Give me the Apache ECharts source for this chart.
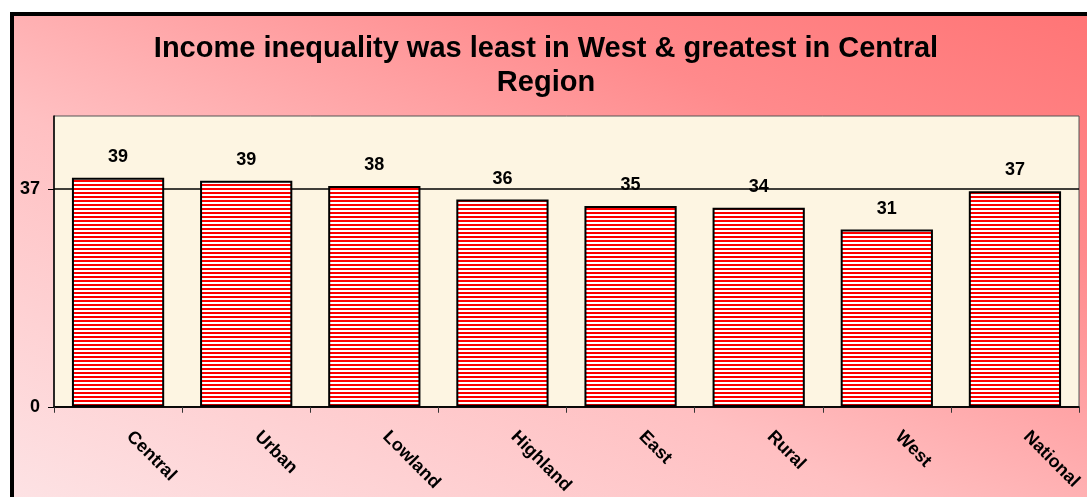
<!DOCTYPE html>
<html>
<head>
<meta charset="utf-8">
<script src="https://cdn.jsdelivr.net/npm/echarts@6/dist/echarts.min.js"></script>
<style>
html, body {
	margin: 0;
	padding: 0;
	background: #ffffff;
	overflow: hidden;
}

#frame {
	position: absolute;
	left: 10px;
	top: 12px;
	border-left: 4px solid #000000;
	border-top: 4px solid #000000;
	background: linear-gradient(to top right, #fde2e4 0%, #ffc0c2 40%, #ff8a8c 75%, #ff7576 100%);
}

#container {
	width: 1073px;
	height: 481px;
}
</style>
</head>
<body>
<div id="frame"><div id="container"></div></div>
<script type="text/javascript">
var categories = ['Central', 'Urban', 'Lowland', 'Highland', 'East', 'Rural', 'West', 'National'];
var values = [38.9, 38.4, 37.5, 35.2, 34.1, 33.8, 30.1, 36.6];
var valueLabels = ['39', '39', '38', '36', '35', '34', '31', '37'];
var yTicks = [0, 37];
var titleText = 'Income inequality was least in West & greatest in Central\nRegion';

// striped fill for the bars
var stripe = document.createElement('canvas');
stripe.width = 4;
stripe.height = 4;
var ctx = stripe.getContext('2d');
ctx.fillStyle = '#ffffff';
ctx.fillRect(0, 0, 4, 4);
ctx.fillStyle = '#ff0000';
ctx.fillRect(0, 0, 4, 2);

var dom = document.getElementById("container");
var myChart = echarts.init(dom, null, {renderer: 'canvas'});
var option = {
	animation: false,
	textStyle: {fontFamily: 'Liberation Sans, Arial, sans-serif'},
	title: {
		text: titleText,
		left: 527,
		textAlign: 'center',
		top: 11,
		textStyle: {
			fontSize: 29,
			fontWeight: 'bold',
			color: '#000000',
			lineHeight: 34,
			fontFamily: 'Liberation Sans, Arial, sans-serif'
		}
	},
	grid: {
		left: 40,
		top: 100,
		right: 8,
		bottom: 90,
		show: true,
		backgroundColor: '#fdf5e2',
		borderColor: '#555555',
		borderWidth: 1,
		containLabel: false
	},
	xAxis: {
		type: 'category',
		data: categories,
		axisLine: {lineStyle: {color: '#000000', width: 1.5}},
		axisTick: {show: true, length: 6, lineStyle: {color: '#333333'}},
		axisLabel: {
			rotate: -45,
			margin: 16,
			padding: [0, 0, 0, 16],
			fontSize: 18,
			fontWeight: 'bold',
			color: '#000000',
			interval: 0
		}
	},
	yAxis: {
		type: 'value',
		min: 0,
		max: 49.4,
		interval: 37,
		axisLine: {show: true, lineStyle: {color: '#000000', width: 1.5}},
		axisTick: {show: true, length: 6, customValues: yTicks, lineStyle: {color: '#000000'}},
		axisLabel: {
			customValues: yTicks,
			fontSize: 18,
			fontWeight: 'bold',
			color: '#000000',
			margin: 14,
			formatter: function (v) { return yTicks.indexOf(v) >= 0 ? String(v) : ''; }
		},
		splitLine: {show: true, lineStyle: {color: '#000000', width: 1.5}}
	},
	series: [{
		type: 'bar',
		data: values,
		barCategoryGap: '28%',
		itemStyle: {
			color: {image: stripe, repeat: 'repeat'},
			borderColor: '#000000',
			borderWidth: 2
		},
		label: {
			show: true,
			position: 'top',
			distance: 12,
			fontSize: 18,
			fontWeight: 'bold',
			color: '#000000',
			formatter: function (p) { return valueLabels[p.dataIndex]; }
		}
	}]
};
myChart.setOption(option);
</script>
</body>
</html>
